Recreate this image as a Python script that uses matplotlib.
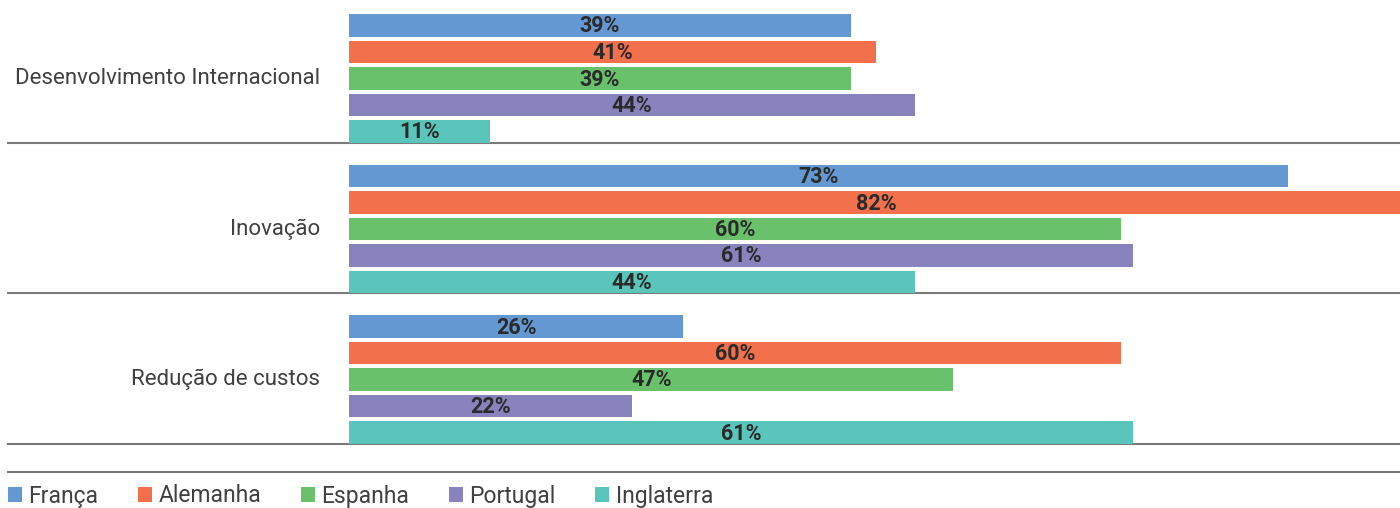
import matplotlib
matplotlib.use("Agg")
import matplotlib.pyplot as plt
from matplotlib.patches import Patch

categories = ["Desenvolvimento Internacional", "Inovação", "Redução de custos"]
series = ["França", "Alemanha", "Espanha", "Portugal", "Inglaterra"]
values = {
    "França":     [39, 73, 26],
    "Alemanha":   [41, 82, 60],
    "Espanha":    [39, 60, 47],
    "Portugal":   [44, 61, 22],
    "Inglaterra": [11, 44, 61],
}
colors = ["#6498D2", "#F2704C", "#6AC16C", "#8882BD", "#59C5BB"]

plt.rcParams['font.family'] = ['Roboto', 'DejaVu Sans']

W, H = 1400, 508
fig = plt.figure(figsize=(W / 100, H / 100), dpi=100)
x0 = 349
ax = fig.add_axes([x0 / W, 0, (W - x0) / W, 1])
ax.set_ylim(H, 0)
px_per_unit = 12.86
xmax = (W - x0) / px_per_unit
ax.set_xlim(0, xmax)
ax.axis("off")

group_step = 150.5
bar_step = 26.5
bar_h = 22.7
first_center = 25.5

for s, name in enumerate(series):
    ys = [first_center + g * group_step + s * bar_step for g in range(len(categories))]
    vals = values[name]
    ax.barh(ys, vals, height=bar_h, color=colors[s], align="center")
    for y, v in zip(ys, vals):
        ax.text(v / 2, y + 1, f"{v}%",
                ha="center", va="center", fontsize=15.5, fontweight="bold",
                color="#2a2a2a")

xmin_frac = -(x0 - 8) / (W - x0)
for g in range(len(categories)):
    ysep = first_center + g * group_step + 4 * bar_step + bar_h / 2
    ax.plot([xmin_frac, 1], [ysep, ysep], transform=ax.get_yaxis_transform(),
            color="#7a7a7a", lw=1.5, clip_on=False, zorder=0)
    yc = first_center + g * group_step + 2 * bar_step
    ax.text(-(x0 - 320) / (W - x0), yc, categories[g], transform=ax.get_yaxis_transform(),
            ha="right", va="center", fontsize=16, fontweight="normal", color="#404040")

ax.plot([xmin_frac, 1], [472, 472], transform=ax.get_yaxis_transform(),
        color="#7a7a7a", lw=1.5, clip_on=False, zorder=0)

handles = [Patch(facecolor=c, edgecolor="none", label=n) for c, n in zip(colors, series)]
leg = fig.legend(handles=handles, loc="center left", bbox_to_anchor=(8 / W, 1 - 496 / H),
                 ncol=5, frameon=False, handlelength=0.6, handleheight=0.6,
                 handletextpad=0.3, columnspacing=1.72, borderaxespad=0, borderpad=0,
                 prop={"size": 16.5, "weight": "normal"})
for t in leg.get_texts():
    t.set_color("#404040")

fig.savefig("out.png", dpi=100)
